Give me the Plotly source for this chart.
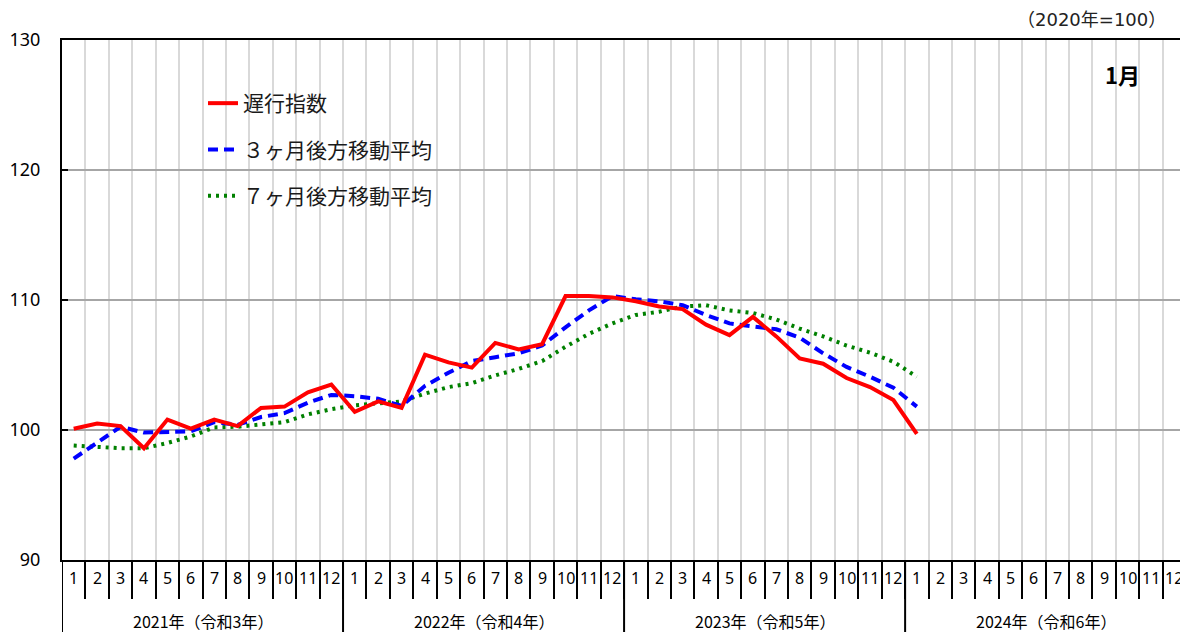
import plotly.graph_objects as go

# ---------------- data ----------------
month_labels = [str(m) for m in range(1, 13)] * 4
year_labels = ["2021年（令和3年）", "2022年（令和4年）", "2023年（令和5年）", "2024年（令和6年）"]
series_names = ["遅行指数", "３ヶ月後方移動平均", "７ヶ月後方移動平均"]

lagging = [100.1, 100.5, 100.3, 98.6, 100.8, 100.1, 100.8, 100.3, 101.7, 101.8, 102.9, 103.5,
           101.4, 102.2, 101.7, 105.8, 105.2, 104.8, 106.7, 106.2, 106.6, 110.3, 110.3, 110.2,
           109.9, 109.5, 109.3, 108.1, 107.3, 108.7, 107.2, 105.5, 105.1, 104.0, 103.3, 102.3,
           99.7]
ma3 = [97.8, 99.0, 100.25, 99.8, 99.85, 99.9, 100.6, 100.4, 101.0, 101.3, 102.1, 102.7,
       102.6, 102.4, 101.85, 103.4, 104.4, 105.3, 105.6, 105.9, 106.5, 107.9, 109.2, 110.3,
       110.05, 109.9, 109.6, 108.85, 108.2, 108.0, 107.75, 107.1, 105.9, 104.85, 104.1, 103.25,
       101.8]
ma7 = [98.8, 98.7, 98.6, 98.6, 99.0, 99.5, 100.2, 100.25, 100.4, 100.6, 101.2, 101.6,
       101.9, 102.05, 102.2, 102.8, 103.3, 103.6, 104.2, 104.7, 105.3, 106.4, 107.4, 108.2,
       108.85, 109.1, 109.5, 109.6, 109.2, 109.0, 108.5, 107.8, 107.2, 106.5, 105.95, 105.25,
       104.1]
y_ticks = [90, 100, 110, 120, 130]
unit_note = "（2020年=100）"
month_note = "1月"

# ---------------- layout constants ----------------
W, H = 1180, 632
L, T, B, R = 62, 40, 72, 0
PW, PH = W - L - R, H - T - B
MONTH_PX = 23.42
n_months = len(month_labels)
xmax = -0.5 + PW / MONTH_PX

JP = "Noto Sans CJK JP"
NUM = "Noto Sans"

fig = go.Figure()
styles = [
    dict(color="#ff0000", width=4, dash="solid"),
    dict(color="#0000ff", width=4, dash="10px,6px"),
    dict(color="#008000", width=4, dash="3px,5px"),
]
traces = []
for i, (name, vals) in enumerate(zip(series_names, [lagging, ma3, ma7])):
    traces.append(go.Scatter(
        x=list(range(len(vals))), y=vals, mode="lines", name=name,
        line=styles[i], legendgroup=f"g{i}", legendrank=i + 1, hoverinfo="skip"))
# draw green first, red on top
for tr in reversed(traces):
    fig.add_trace(tr)

boundaries = [i + 0.5 for i in range(n_months - 1)]

fig.update_xaxes(
    range=[-0.5, xmax], tickvals=boundaries, showticklabels=False,
    ticks="outside", ticklen=37, tickwidth=2, tickcolor="black",
    showgrid=True, gridcolor="#d9d9d9", gridwidth=2,
    showline=True, linecolor="black", linewidth=2, mirror=True, zeroline=False,
)
fig.update_yaxes(
    range=[y_ticks[0], y_ticks[-1]], tickvals=y_ticks,
    ticks="inside", ticklen=6, tickwidth=2, tickcolor="black",
    showgrid=True, gridcolor="#a6a6a6", gridwidth=1.5,
    showline=True, linecolor="black", linewidth=2, zeroline=False,
    tickfont=dict(family=NUM, size=18, color="black"), ticklabelstandoff=16,
)

shapes = []
# legend white box
shapes.append(dict(type="rect", xref="paper", yref="paper",
                   x0=(154 - L) / PW, x1=(450 - L) / PW,
                   y0=(T + PH - 220) / PH, y1=(T + PH - 82) / PH,
                   fillcolor="white", line=dict(width=0), layer="between"))
# year separators below axis
ybot = -B / PH
for b in [-0.5] + [12 * k - 0.5 for k in range(1, 4)]:
    shapes.append(dict(type="line", xref="x", yref="paper", x0=b, x1=b, y0=0, y1=ybot,
                       line=dict(color="black", width=2)))
fig.update_layout(shapes=shapes)

ann = []
for i, m in enumerate(month_labels):
    ann.append(dict(x=i, y=-(578 - (T + PH)) / PH, xref="x", yref="paper", text=m,
                    showarrow=False, xanchor="center", yanchor="middle",
                    font=dict(family=NUM, size=16, color="black")))
for k, yl in enumerate(year_labels):
    ann.append(dict(x=12 * k + 5.5, y=-(621 - (T + PH)) / PH, xref="x", yref="paper", text=yl,
                    showarrow=False, xanchor="center", yanchor="middle",
                    font=dict(family=JP, size=16, color="black")))
ann.append(dict(x=(1168 - L) / PW, y=1 + (T - 20) / PH, xref="paper", yref="paper",
                text=unit_note, showarrow=False, xanchor="right", yanchor="middle",
                font=dict(family="DejaVu Sans, Noto Sans CJK JP", size=18, color="#222222")))
ann.append(dict(x=(1122 - L) / PW, y=(T + PH - 74) / PH, xref="paper", yref="paper",
                text="<b>" + month_note + "</b>", showarrow=False, xanchor="center", yanchor="middle",
                font=dict(family=JP, size=22, color="black")))

fig.update_layout(
    width=W, height=H, margin=dict(l=L, r=R, t=T, b=B, pad=0),
    paper_bgcolor="white", plot_bgcolor="white",
    annotations=ann,
    showlegend=True,
    legend=dict(x=(203 - L) / PW, y=(T + PH - 83) / PH, xanchor="left", yanchor="top",
                bgcolor="rgba(0,0,0,0)", borderwidth=0,
                font=dict(family=JP, size=21, color="#1a1a1a"),
                tracegroupgap=16, traceorder="grouped", itemwidth=30),
)

fig.write_html("out.html", config={"displayModeBar": False},
               post_script="document.body.style.margin='0';")
